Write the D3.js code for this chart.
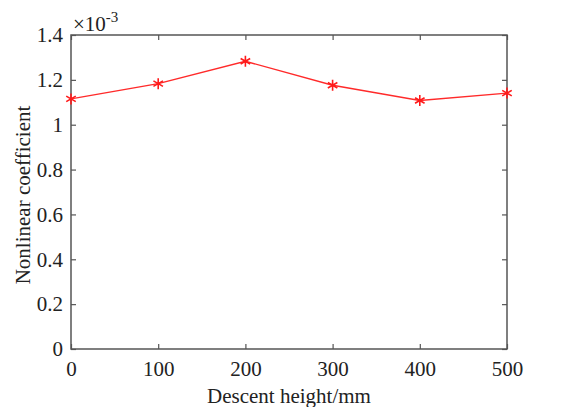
<!DOCTYPE html>
<html>
<head>
<meta charset="utf-8">
<script src="https://cdn.jsdelivr.net/npm/d3@7"></script>
<style>
  body { margin: 0; background: #fff; }
  text { font-family: "Liberation Serif", "Times New Roman", serif; fill: #222; }
</style>
</head>
<body>
<div id="chart"></div>
<script>
// data (values in units of 1e-3)
var heights = [0, 100, 200, 300, 400, 500];
var coeffs = [1.115, 1.183, 1.283, 1.176, 1.108, 1.141];
var xTicks = [0, 100, 200, 300, 400, 500];
var yTicks = [0, 0.2, 0.4, 0.6, 0.8, 1, 1.2, 1.4];

var width = 562, height = 407;
var margin = { top: 35, right: 55, bottom: 58, left: 71 };
var innerW = width - margin.left - margin.right;
var innerH = height - margin.top - margin.bottom;
var axisColor = "#555";

var svg = d3.select("#chart").append("svg")
    .attr("width", width)
    .attr("height", height);

var g = svg.append("g")
    .attr("transform", "translate(" + margin.left + "," + margin.top + ")");

var xScale = d3.scaleLinear().domain([0, 500]).range([0, innerW]);
var yScale = d3.scaleLinear().domain([0, 1.4]).range([innerH, 0]);

// box
g.append("rect")
    .attr("width", innerW)
    .attr("height", innerH)
    .attr("fill", "none")
    .attr("stroke", axisColor)
    .attr("stroke-width", 1.5);

function styleAxis(sel, showLabels) {
    sel.select(".domain").remove();
    sel.selectAll(".tick line").attr("stroke", axisColor).attr("stroke-width", 1.2);
    if (!showLabels) sel.selectAll(".tick text").remove();
    sel.selectAll(".tick text").attr("font-size", 21).attr("fill", "#222")
        .style("font-family", "'Liberation Serif', 'Times New Roman', serif");
}

var fmt = function (d) { return d3.format("~g")(d); };

g.append("g")
    .attr("transform", "translate(0," + innerH + ")")
    .call(d3.axisBottom(xScale).tickValues(xTicks).tickSize(-5).tickPadding(12).tickFormat(fmt))
    .call(styleAxis, true);

g.append("g")
    .call(d3.axisTop(xScale).tickValues(xTicks).tickSize(-5))
    .call(styleAxis, false);

g.append("g")
    .call(d3.axisLeft(yScale).tickValues(yTicks).tickSize(-5).tickPadding(8).tickFormat(fmt))
    .call(styleAxis, true);

g.append("g")
    .attr("transform", "translate(" + innerW + ",0)")
    .call(d3.axisRight(yScale).tickValues(yTicks).tickSize(-5))
    .call(styleAxis, false);

// exponent label
var expo = svg.append("text")
    .attr("x", margin.left + 2)
    .attr("y", margin.top - 4)
    .attr("font-size", 21);
expo.append("tspan").text("\u00d710");
expo.append("tspan").attr("dy", -9).attr("font-size", 15).text("-3");

// line
var line = d3.line()
    .x(function (d, i) { return xScale(heights[i]); })
    .y(function (d) { return yScale(d); });

g.append("path")
    .datum(coeffs)
    .attr("d", line)
    .attr("fill", "none")
    .attr("stroke", "#ff2a2a")
    .attr("stroke-width", 1.4);

// asterisk markers
var star = d3.symbol().type(d3.symbolAsterisk).size(85);
g.selectAll(".pt")
    .data(coeffs)
    .enter().append("path")
    .attr("class", "pt")
    .attr("transform", function (d, i) { return "translate(" + xScale(heights[i]) + "," + yScale(d) + ")"; })
    .attr("d", star)
    .attr("fill", "none")
    .attr("stroke", "#ff1a1a")
    .attr("stroke-width", 1.6);

// axis titles
svg.append("text")
    .attr("x", margin.left + innerW / 2)
    .attr("y", height - 4)
    .attr("text-anchor", "middle")
    .attr("font-size", 21)
    .text("Descent height/mm");

svg.append("text")
    .attr("transform", "translate(30," + (margin.top + innerH / 2 + 3) + ") rotate(-90)")
    .attr("text-anchor", "middle")
    .attr("font-size", 21)
    .text("Nonlinear coefficient");
</script>
</body>
</html>
